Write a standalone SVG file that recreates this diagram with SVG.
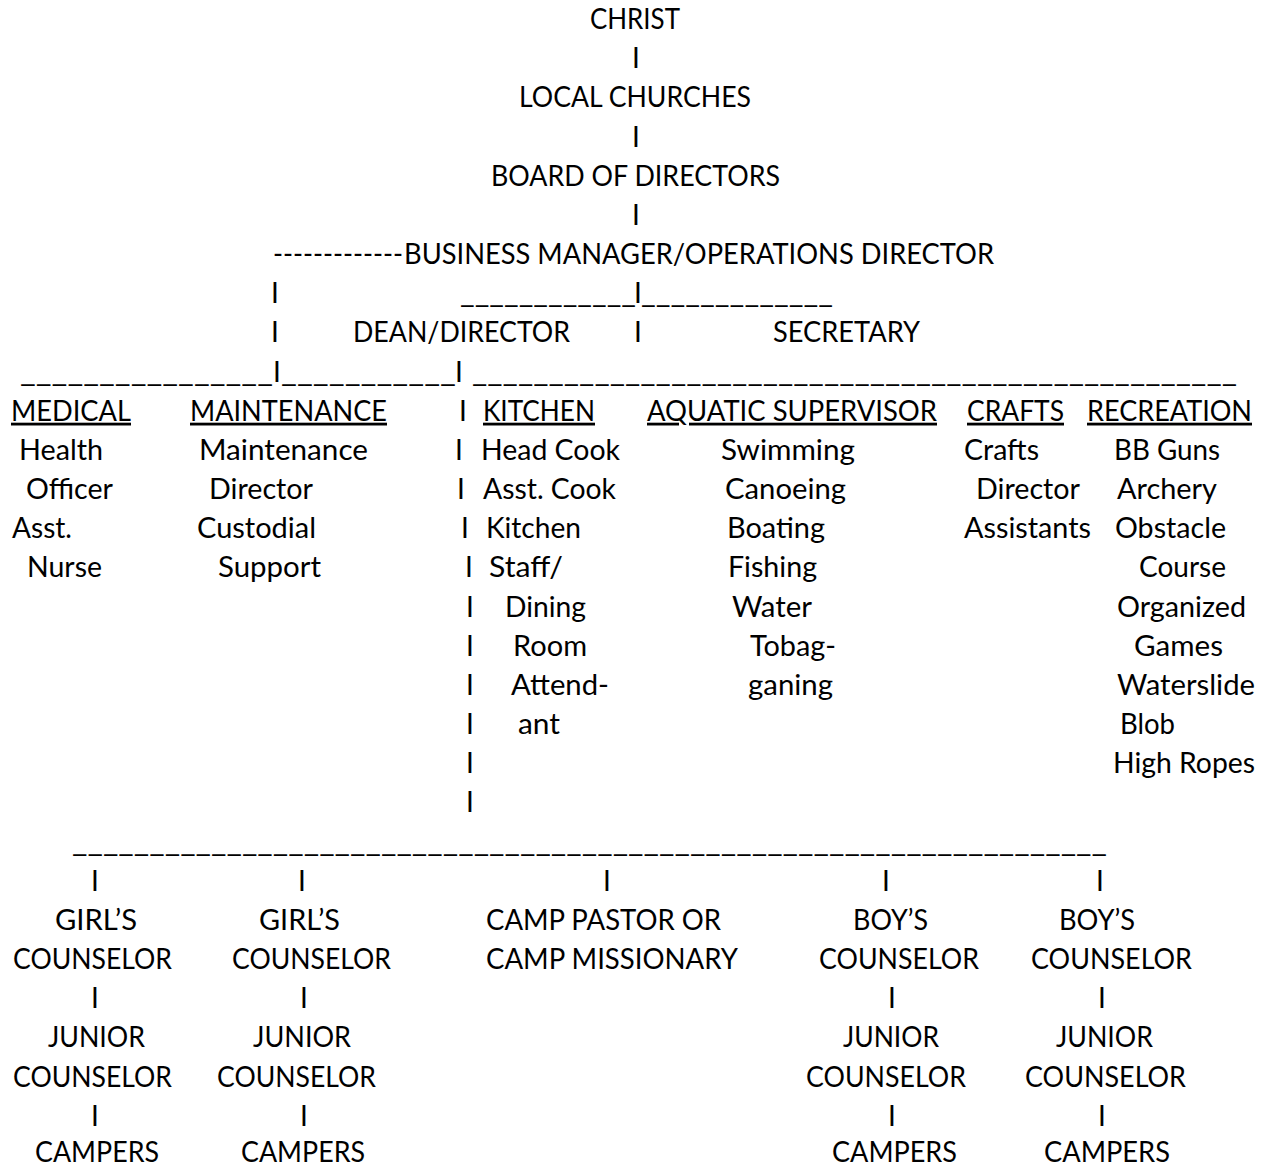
<svg xmlns="http://www.w3.org/2000/svg" width="1270" height="1168" viewBox="0 0 1270 1168">
<style>
text{font-family:Lato,"Liberation Sans",Arial,sans-serif;font-size:28px;fill:#000}
.c{text-anchor:middle}
.u{text-decoration:underline}
</style>
<rect width="1270" height="1168" fill="#fff"/>
<g id="connectors">
<text class="c" x="636" y="68.2">I</text>
<text class="c" x="636" y="146.5">I</text>
<text class="c" x="636" y="224.9">I</text>
<text x="273" y="264" textLength="130" lengthAdjust="spacingAndGlyphs">-------------</text>
<text class="c" x="275" y="303.2">I</text>
<text x="460" y="303.2" textLength="176" lengthAdjust="spacingAndGlyphs">____________</text>
<text class="c" x="638" y="303.2">I</text>
<text x="641" y="303.2" textLength="192" lengthAdjust="spacingAndGlyphs">_____________</text>
<text class="c" x="275" y="342.4">I</text>
<text class="c" x="638" y="342.4">I</text>
<text x="20" y="381.5" textLength="253" lengthAdjust="spacingAndGlyphs">________________</text>
<text class="c" x="277" y="381.5">I</text>
<text x="281" y="381.5" textLength="175" lengthAdjust="spacingAndGlyphs">___________</text>
<text class="c" x="459" y="381.5">I</text>
<text x="472" y="381.5" textLength="765" lengthAdjust="spacingAndGlyphs">__________________________________________________</text>
<text class="c" x="463" y="420.7">I</text>
<text class="c" x="459" y="459.9">I</text>
<text class="c" x="461" y="499">I</text>
<text class="c" x="465" y="538.2">I</text>
<text class="c" x="469" y="577.4">I</text>
<text class="c" x="470" y="616.6">I</text>
<text class="c" x="470" y="655.7">I</text>
<text class="c" x="470" y="694.9">I</text>
<text class="c" x="470" y="734.1">I</text>
<text class="c" x="470" y="773.2">I</text>
<text class="c" x="470" y="812.4">I</text>
<text x="72" y="851.6" textLength="1035" lengthAdjust="spacingAndGlyphs">___________________________________________________________________</text>
<text class="c" x="95" y="890.7">I</text>
<text class="c" x="302" y="890.7">I</text>
<text class="c" x="607" y="890.7">I</text>
<text class="c" x="886" y="890.7">I</text>
<text class="c" x="1100" y="890.7">I</text>
<text class="c" x="95" y="1008.3">I</text>
<text class="c" x="304" y="1008.3">I</text>
<text class="c" x="892" y="1008.3">I</text>
<text class="c" x="1102" y="1008.3">I</text>
<text class="c" x="95" y="1125.8">I</text>
<text class="c" x="304" y="1125.8">I</text>
<text class="c" x="892" y="1125.8">I</text>
<text class="c" x="1102" y="1125.8">I</text>
</g>
<g id="christ"><text x="590" y="29" textLength="90" lengthAdjust="spacingAndGlyphs">CHRIST</text></g>
<g id="local-churches"><text x="519" y="107.3" textLength="232" lengthAdjust="spacingAndGlyphs">LOCAL CHURCHES</text></g>
<g id="board"><text x="491" y="185.7" textLength="289" lengthAdjust="spacingAndGlyphs">BOARD OF DIRECTORS</text></g>
<g id="business-manager"><text x="404" y="264" textLength="590" lengthAdjust="spacingAndGlyphs">BUSINESS MANAGER/OPERATIONS DIRECTOR</text></g>
<g id="dean"><text x="353" y="342.4" textLength="217" lengthAdjust="spacingAndGlyphs">DEAN/DIRECTOR</text></g>
<g id="secretary"><text x="773" y="342.4" textLength="147" lengthAdjust="spacingAndGlyphs">SECRETARY</text></g>
<g id="medical">
<text class="u" x="11" y="420.7" textLength="120" lengthAdjust="spacingAndGlyphs">MEDICAL</text>
<text x="19" y="459.9" textLength="84" lengthAdjust="spacingAndGlyphs">Health</text>
<text x="26" y="499" textLength="87" lengthAdjust="spacingAndGlyphs">Officer</text>
<text x="12" y="538.2" textLength="60" lengthAdjust="spacingAndGlyphs">Asst.</text>
<text x="27" y="577.4" textLength="75" lengthAdjust="spacingAndGlyphs">Nurse</text>
</g>
<g id="maintenance">
<text class="u" x="190" y="420.7" textLength="197" lengthAdjust="spacingAndGlyphs">MAINTENANCE</text>
<text x="199" y="459.9" textLength="169" lengthAdjust="spacingAndGlyphs">Maintenance</text>
<text x="209" y="499" textLength="104" lengthAdjust="spacingAndGlyphs">Director</text>
<text x="197" y="538.2" textLength="119" lengthAdjust="spacingAndGlyphs">Custodial</text>
<text x="218" y="577.4" textLength="103" lengthAdjust="spacingAndGlyphs">Support</text>
</g>
<g id="kitchen">
<text class="u" x="483" y="420.7" textLength="112" lengthAdjust="spacingAndGlyphs">KITCHEN</text>
<text x="481" y="459.9" textLength="139" lengthAdjust="spacingAndGlyphs">Head Cook</text>
<text x="483" y="499" textLength="133" lengthAdjust="spacingAndGlyphs">Asst. Cook</text>
<text x="486" y="538.2" textLength="95" lengthAdjust="spacingAndGlyphs">Kitchen</text>
<text x="489" y="577.4" textLength="74" lengthAdjust="spacingAndGlyphs">Staff/</text>
<text x="505" y="616.6" textLength="81" lengthAdjust="spacingAndGlyphs">Dining</text>
<text x="513" y="655.7" textLength="74" lengthAdjust="spacingAndGlyphs">Room</text>
<text x="511" y="694.9" textLength="98" lengthAdjust="spacingAndGlyphs">Attend-</text>
<text x="518" y="734.1" textLength="42" lengthAdjust="spacingAndGlyphs">ant</text>
</g>
<g id="aquatic">
<text class="u" x="647" y="420.7" textLength="290" lengthAdjust="spacingAndGlyphs">AQUATIC SUPERVISOR</text>
<text x="721" y="459.9" textLength="134" lengthAdjust="spacingAndGlyphs">Swimming</text>
<text x="725" y="499" textLength="121" lengthAdjust="spacingAndGlyphs">Canoeing</text>
<text x="727" y="538.2" textLength="98" lengthAdjust="spacingAndGlyphs">Boating</text>
<text x="728" y="577.4" textLength="89" lengthAdjust="spacingAndGlyphs">Fishing</text>
<text x="732" y="616.6" textLength="80" lengthAdjust="spacingAndGlyphs">Water</text>
<text x="750" y="655.7" textLength="86" lengthAdjust="spacingAndGlyphs">Tobag-</text>
<text x="748" y="694.9" textLength="85" lengthAdjust="spacingAndGlyphs">ganing</text>
</g>
<g id="crafts">
<text class="u" x="967" y="420.7" textLength="97" lengthAdjust="spacingAndGlyphs">CRAFTS</text>
<text x="964" y="459.9" textLength="75" lengthAdjust="spacingAndGlyphs">Crafts</text>
<text x="976" y="499" textLength="104" lengthAdjust="spacingAndGlyphs">Director</text>
<text x="964" y="538.2" textLength="127" lengthAdjust="spacingAndGlyphs">Assistants</text>
</g>
<g id="recreation">
<text class="u" x="1087" y="420.7" textLength="165" lengthAdjust="spacingAndGlyphs">RECREATION</text>
<text x="1114" y="459.9" textLength="106" lengthAdjust="spacingAndGlyphs">BB Guns</text>
<text x="1117" y="499" textLength="100" lengthAdjust="spacingAndGlyphs">Archery</text>
<text x="1115" y="538.2" textLength="111" lengthAdjust="spacingAndGlyphs">Obstacle</text>
<text x="1139" y="577.4" textLength="87" lengthAdjust="spacingAndGlyphs">Course</text>
<text x="1117" y="616.6" textLength="129" lengthAdjust="spacingAndGlyphs">Organized</text>
<text x="1134" y="655.7" textLength="89" lengthAdjust="spacingAndGlyphs">Games</text>
<text x="1117" y="694.9" textLength="138" lengthAdjust="spacingAndGlyphs">Waterslide</text>
<text x="1120" y="734.1" textLength="55" lengthAdjust="spacingAndGlyphs">Blob</text>
<text x="1113" y="773.2" textLength="142" lengthAdjust="spacingAndGlyphs">High Ropes</text>
</g>
<g id="girls-1">
<text x="55" y="929.9" textLength="82" lengthAdjust="spacingAndGlyphs">GIRL’S</text>
<text x="13" y="969.1" textLength="159" lengthAdjust="spacingAndGlyphs">COUNSELOR</text>
<text x="48" y="1047.4" textLength="97" lengthAdjust="spacingAndGlyphs">JUNIOR</text>
<text x="13" y="1086.6" textLength="159" lengthAdjust="spacingAndGlyphs">COUNSELOR</text>
<text x="35" y="1162" textLength="124" lengthAdjust="spacingAndGlyphs">CAMPERS</text>
</g>
<g id="girls-2">
<text x="259" y="929.9" textLength="81" lengthAdjust="spacingAndGlyphs">GIRL’S</text>
<text x="232" y="969.1" textLength="159" lengthAdjust="spacingAndGlyphs">COUNSELOR</text>
<text x="253" y="1047.4" textLength="98" lengthAdjust="spacingAndGlyphs">JUNIOR</text>
<text x="217" y="1086.6" textLength="159" lengthAdjust="spacingAndGlyphs">COUNSELOR</text>
<text x="241" y="1162" textLength="124" lengthAdjust="spacingAndGlyphs">CAMPERS</text>
</g>
<g id="camp-pastor">
<text x="486" y="929.9" textLength="235" lengthAdjust="spacingAndGlyphs">CAMP PASTOR OR</text>
<text x="486" y="969.1" textLength="252" lengthAdjust="spacingAndGlyphs">CAMP MISSIONARY</text>
</g>
<g id="boys-1">
<text x="853" y="929.9" textLength="75" lengthAdjust="spacingAndGlyphs">BOY’S</text>
<text x="819" y="969.1" textLength="160" lengthAdjust="spacingAndGlyphs">COUNSELOR</text>
<text x="843" y="1047.4" textLength="96" lengthAdjust="spacingAndGlyphs">JUNIOR</text>
<text x="806" y="1086.6" textLength="160" lengthAdjust="spacingAndGlyphs">COUNSELOR</text>
<text x="832" y="1162" textLength="125" lengthAdjust="spacingAndGlyphs">CAMPERS</text>
</g>
<g id="boys-2">
<text x="1059" y="929.9" textLength="76" lengthAdjust="spacingAndGlyphs">BOY’S</text>
<text x="1031" y="969.1" textLength="161" lengthAdjust="spacingAndGlyphs">COUNSELOR</text>
<text x="1056" y="1047.4" textLength="97" lengthAdjust="spacingAndGlyphs">JUNIOR</text>
<text x="1025" y="1086.6" textLength="161" lengthAdjust="spacingAndGlyphs">COUNSELOR</text>
<text x="1044" y="1162" textLength="126" lengthAdjust="spacingAndGlyphs">CAMPERS</text>
</g>
</svg>
